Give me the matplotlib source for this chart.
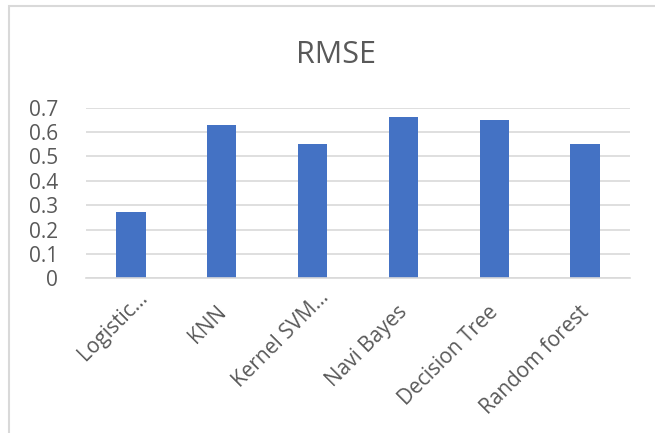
import matplotlib.pyplot as plt
from matplotlib.patches import Rectangle
import matplotlib.transforms as mtransforms

# RMSE par modèle
modeles = ['Logistic...', 'KNN', 'Kernel SVM...', 'Navi Bayes', 'Decision Tree', 'Random forest']
rmse = [0.27, 0.63, 0.55, 0.66, 0.65, 0.55]
graduations = [0, 0.1, 0.2, 0.3, 0.4, 0.5, 0.6, 0.7]

gris_texte = '#595959'
gris_ligne = '#d9d9d9'
bleu = '#4472C4'

plt.rcParams['font.family'] = ['Open Sans', 'DejaVu Sans']

fig = plt.figure(figsize=(6.55, 4.33), dpi=100)
ax = fig.add_axes([85.6 / 655, 1 - 278.3 / 433, 544.8 / 655, 170.6 / 433])

# cadre du graphique (bords gauche et haut visibles)
fig.patches.append(Rectangle((9 / 655, -0.1), 1.2, 1 - 6 / 433 + 0.1,
                             transform=fig.transFigure, fill=False,
                             edgecolor=gris_ligne, linewidth=1.5))

x = range(len(modeles))
ax.bar(x, rmse, width=0.32, color=bleu, zorder=3)

ax.set_xlim(-0.5, len(modeles) - 0.5)
ax.set_ylim(0, 0.7)
ax.set_yticks(graduations)
ax.set_yticklabels([f'{v:g}' for v in graduations])
ax.yaxis.grid(True, color=gris_ligne, linewidth=1.2, zorder=0)

for cote in ['top', 'right', 'left']:
    ax.spines[cote].set_visible(False)
ax.spines['bottom'].set_color(gris_ligne)
ax.spines['bottom'].set_linewidth(1.2)
ax.spines['bottom'].set_zorder(4)

ax.tick_params(axis='both', length=0, labelcolor=gris_texte, labelsize=15)
ax.tick_params(axis='y', pad=20)

ax.set_xticks(list(x))
ax.set_xticklabels(modeles, rotation=45, ha='right', va='baseline', rotation_mode='anchor')
# les libellés tronqués ("...") sont décalés le long du texte
for lab in ax.get_xticklabels():
    if lab.get_text().endswith('...'):
        dx, dy = 17, -15
    else:
        dx, dy = 5, -30
    decalage = mtransforms.ScaledTranslation(dx / 100, dy / 100, fig.dpi_scale_trans)
    lab.set_transform(lab.get_transform() + decalage)

fig.text(336 / 655, 1 - 63 / 433, 'RMSE', ha='center', va='baseline',
         fontsize=22, color=gris_texte)

fig.savefig('out.png', dpi=100, facecolor='white')
